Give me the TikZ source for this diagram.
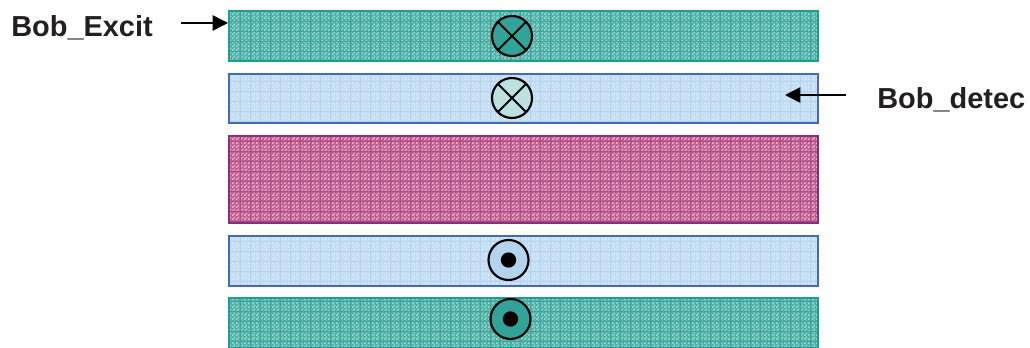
\documentclass[tikz,border=0pt]{standalone}
\usepackage{fontspec}
\setmainfont{Liberation Sans}
\usetikzlibrary{patterns,arrows.meta}
\pgfdeclarepatternformonly{fine checks}{\pgfqpoint{0pt}{0pt}}{\pgfqpoint{3pt}{3pt}}{\pgfqpoint{3pt}{3pt}}{%
  \pgfpathrectangle{\pgfqpoint{0pt}{0pt}}{\pgfqpoint{1.5pt}{1.5pt}}%
  \pgfpathrectangle{\pgfqpoint{1.5pt}{1.5pt}}{\pgfqpoint{1.5pt}{1.5pt}}%
  \pgfusepath{fill}}
\definecolor{tealbase}{HTML}{4CB1A8}
\definecolor{tealdot}{HTML}{A0D7D0}
\definecolor{tealline}{HTML}{1F9C94}
\definecolor{tealgrid}{HTML}{3BA59C}
\definecolor{tealdisc}{HTML}{32A399}
\definecolor{tealpale}{HTML}{BCE2E0}
\definecolor{bluebase}{HTML}{C3DDF3}
\definecolor{bluedot}{HTML}{D8E9F7}
\definecolor{blueline}{HTML}{4469B4}
\definecolor{bluegrid}{HTML}{B3D3EE}
\definecolor{bluedisc}{HTML}{B4D4EE}
\definecolor{magbase}{HTML}{C0608F}
\definecolor{magdot}{HTML}{E6B4CE}
\definecolor{magline}{HTML}{8A2D7E}
\definecolor{maggrid}{HTML}{B04A88}
\definecolor{labelink}{HTML}{231F20}
% x0, y0, x1, y1, base, dots, grid
\newcommand{\texturedband}[7]{%
  \begin{scope}
    \clip (#1,#2) rectangle (#3,#4);
    \fill[#5] (#1,#2) rectangle (#3,#4);
    \fill[pattern=fine checks,pattern color=#6] (#1,#2) rectangle (#3,#4);
    \foreach \gx in {240,250,...,810} \draw[#7,line width=0.7pt] (\gx,#2) -- (\gx,#4);
    \foreach \gy in {1,11,...,341} \draw[#7,line width=0.7pt] (#1,\gy) -- (#3,\gy);
  \end{scope}%
}
\tikzset{
  x=0.75pt,y=-0.75pt,
  band/.style={draw=#1,line width=1.4pt,inner sep=0pt,minimum width=442pt},
  ring/.style={circle,draw=black,line width=1.6pt,minimum size=30pt,inner sep=0pt},
  crossring/.style={ring,path picture={
      \draw[black,line width=1.5pt] (path picture bounding box.south west) -- (path picture bounding box.north east);
      \draw[black,line width=1.5pt] (path picture bounding box.north west) -- (path picture bounding box.south east);}},
  centredot/.style={circle,fill=black,minimum size=11.5pt,inner sep=0pt},
  lab/.style={font=\bfseries\fontsize{21.7}{26}\selectfont,text=labelink,inner sep=0pt},
  pointer/.style={-{Triangle[length=11.5pt,width=11.5pt]},line width=1.1pt,black},
}
\begin{document}
\begin{tikzpicture}
\useasboundingbox (0,0) rectangle (1030,347);
\texturedband{229}{11}{818}{61}{tealbase}{tealdot}{tealgrid}
\texturedband{229}{74}{818}{123}{bluebase}{bluedot}{bluegrid}
\texturedband{229}{136}{818}{223}{magbase}{magdot}{maggrid}
\texturedband{229}{236}{818}{286}{bluebase}{bluedot}{bluegrid}
\texturedband{229}{298}{818}{347}{tealbase}{tealdot}{tealgrid}
\node[band=tealline,minimum height=37.5pt] (teala) at (523.5,36) {};
\node[band=blueline,minimum height=37pt] (bluea) at (523.5,98.5) {};
\node[band=magline,minimum height=65pt] (mag) at (523.5,179.5) {};
\node[band=blueline,minimum height=37.5pt] (blueb) at (523.5,261) {};
\node[band=tealline,minimum height=37.5pt] (tealb) at (523.5,323) {};
\node[ring,crossring,fill=tealdisc] (c1) at (512,36) {};
\node[ring,crossring,fill=tealpale] (c2) at (512,98) {};
\node[ring,fill=bluedisc] (c3) at (508.5,260) {};
\node[centredot] (d3) at (c3) {};
\node[ring,fill=tealdisc] (c4) at (510.5,319) {};
\node[centredot] (d4) at (c4) {};
\node[lab,anchor=base west] (excit) at (11,36) {Bob\_Excit};
\node[lab,anchor=base west] (detec) at (877,108) {Bob\_detec};
\coordinate (excitfrom) at (181,23);
\coordinate (excitto) at (228,23);
\coordinate (detecfrom) at (846,95);
\coordinate (detecto) at (785,95);
\draw[pointer] (excitfrom) -- (excitto);
\draw[pointer] (detecfrom) -- (detecto);
\end{tikzpicture}
\end{document}
